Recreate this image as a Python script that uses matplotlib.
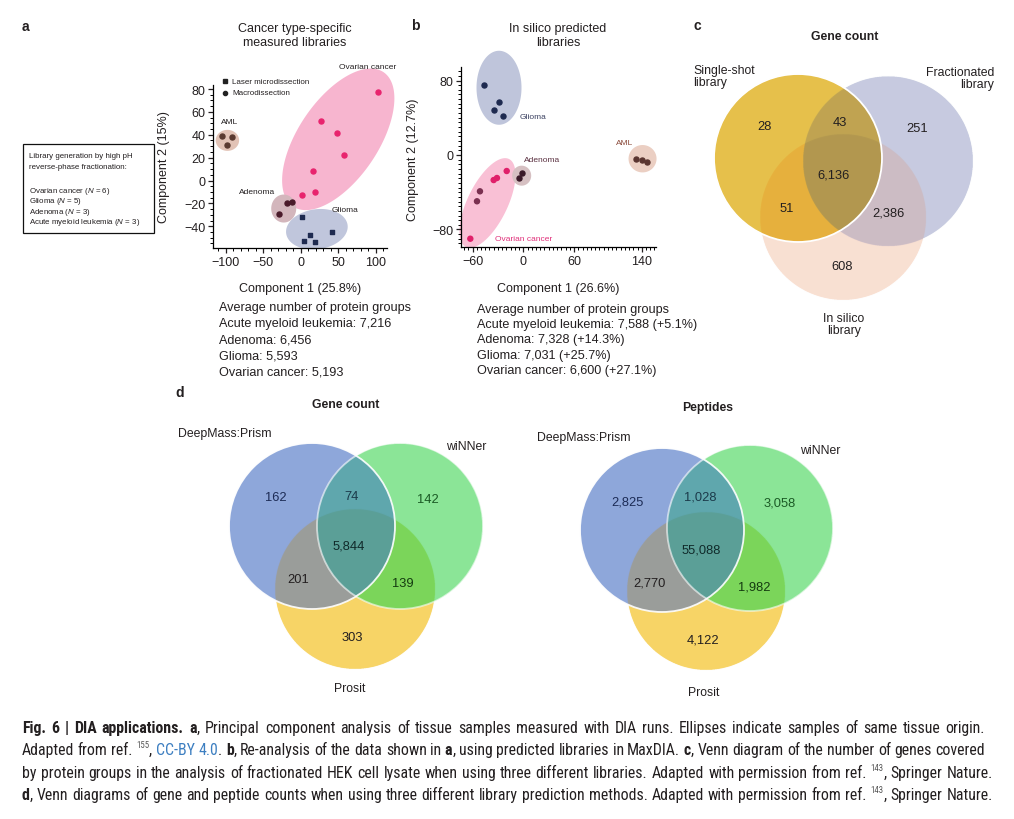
import numpy as np
import matplotlib
matplotlib.use('Agg')
import matplotlib.pyplot as plt
from matplotlib import font_manager
from matplotlib.colors import to_rgba
from matplotlib.patches import Rectangle, Circle
from matplotlib.ticker import MultipleLocator

# ---- data ----
# panel a: PCA, measured libraries
a_ovarian_x = [103.6, 26.7, 48.4, 57.8, 16.0, 19.6, 1.8]
a_ovarian_y = [77.6, 51.9, 41.1, 22.7, 7.9, -9.9, -13.1]
a_aml_x = [-104.9, -91.1, -98.2]
a_aml_y = [38.5, 38.2, 30.9]
a_adenoma_x = [-18.7, -12.0, -29.3]
a_adenoma_y = [-19.8, -18.7, -29.7]
a_glioma_x = [1.3, 42.2, 12.4, 18.7, 4.0]
a_glioma_y = [-31.8, -44.6, -47.5, -53.4, -52.8]

# panel b: PCA, in silico libraries
b_glioma_x = [-26.7, -46.5, -28.4, -35.0, -24.4]
b_glioma_y = [99.6, 75.2, 56.6, 48.7, 41.9]
b_aml_x = [133.2, 140.3, 145.8]
b_aml_y = [-4.3, -5.0, -7.1]
b_adenoma_x = [-1.2, -5.1]
b_adenoma_y = [-19.3, -24.7]
b_ovarian_x = [-19.6, -31.1, -35.0, -51.2, -54.7, -62.6]
b_ovarian_y = [-17.2, -24.7, -26.9, -39.0, -49.7, -89.9]

groups = ['Acute myeloid leukemia', 'Adenoma', 'Glioma', 'Ovarian cancer']
measured_groups = [7216, 6456, 5593, 5193]
insilico_groups = [7588, 7328, 7031, 6600]
insilico_gain = [5.1, 14.3, 25.7, 27.1]

# venn counts, region order: A, B, AB, C, AC, BC, ABC
c_sets = ['Single-shot\nlibrary', 'Fractionated\nlibrary', 'In silico\nlibrary']
c_counts = [28, 251, 43, 608, 51, 2386, 6136]
d_sets = ['DeepMass:Prism', 'wiNNer', 'Prosit']
d_gene_counts = [162, 142, 74, 303, 201, 139, 5844]
d_pep_counts = [2825, 3058, 1028, 4122, 2770, 1982, 55088]

# ---- fonts ----
avail = sorted({f.name for f in font_manager.fontManager.ttflist})
NARROW = 'Liberation Sans'
for cand in ['Liberation Sans Narrow', 'Arial Narrow', 'Roboto Condensed', 'Open Sans Condensed',
             'Noto Sans Condensed', 'Nimbus Sans Narrow', 'Noto Sans Display Condensed']:
    if cand in avail:
        NARROW = cand
        break
else:
    for n in avail:
        if ('Narrow' in n or 'Condensed' in n) and 'Sans' in n and 'Mono' not in n and 'DejaVu' not in n:
            NARROW = n
            break
plt.rcParams['font.family'] = ['Liberation Sans', 'DejaVu Sans']
plt.rcParams['mathtext.fontset'] = 'custom'
plt.rcParams['mathtext.rm'] = 'Liberation Sans'
plt.rcParams['mathtext.it'] = 'Liberation Sans:italic'
INK = '#231f20'

W, H = 1014, 820
fig = plt.figure(figsize=(W / 100, H / 100), dpi=100)
bg = fig.add_axes([0, 0, 1, 1])
bg.axis('off')
renderer = fig.canvas.get_renderer()


def px_axes(l, t, r, b):
    return fig.add_axes([l / W, 1 - b / H, (r - l) / W, (b - t) / H])


def blob(ax, cx, cy, a, b, ang, color):
    # ellipse given in screen pixels, centred on a data point
    x0, x1 = ax.get_xlim()
    y0, y1 = ax.get_ylim()
    pos = ax.get_position()
    sx = pos.width * W / (x1 - x0)
    sy = pos.height * H / (y1 - y0)
    t = np.linspace(0, 2 * np.pi, 200)
    r = np.deg2rad(ang)
    ex, ey = a * np.cos(t), b * np.sin(t)
    px = ex * np.cos(r) - ey * np.sin(r)
    py = ex * np.sin(r) + ey * np.cos(r)
    ax.fill(cx + px / sx, cy + py / sy, color=color, lw=0, zorder=1, clip_on=False)


def style_axes(ax, xmin, ymin):
    for s in ['top', 'right']:
        ax.spines[s].set_visible(False)
    for s in ['left', 'bottom']:
        ax.spines[s].set_linewidth(0.9)
    ax.xaxis.set_minor_locator(MultipleLocator(xmin))
    ax.yaxis.set_minor_locator(MultipleLocator(ymin))
    ax.tick_params(which='major', length=3.5, width=0.9, labelsize=9, pad=2, colors=INK)
    ax.tick_params(which='minor', length=2, width=0.7)
    ax.patch.set_alpha(0)


# ---- panel a ----
ax = px_axes(213, 86, 387, 249)
ax.set_xlim(-117, 115)
ax.set_ylim(-59, 83.5)
ax.set_xticks([-100, -50, 0, 50, 100])
ax.set_yticks([-40, -20, 0, 20, 40, 60, 80])
style_axes(ax, 10, 5)
blob(ax, 50, 36, 81, 40, 56, '#f7b5cf')
blob(ax, -97.8, 35.1, 11.7, 10.5, 0, '#e2c3b6')
blob(ax, -22.7, -24.5, 14, 12.5, 90, '#d3b6bc')
blob(ax, 21.5, -42.6, 31, 20, 8, '#c0c6dc')
ax.scatter(a_ovarian_x, a_ovarian_y, s=13, color='#e8246e', zorder=3, clip_on=False)
ax.scatter(a_aml_x, a_aml_y, s=13, color='#5a3a30', zorder=3, clip_on=False)
ax.scatter(a_adenoma_x, a_adenoma_y, s=13, color='#4a1a2a', zorder=3, clip_on=False)
ax.scatter(a_glioma_x, a_glioma_y, s=12, marker='s', color='#1e2a50', zorder=3, clip_on=False)
for txt, x, y in [('Ovarian cancer', 51, 99.8), ('AML', -105.8, 51.3),
                  ('Adenoma', -82.3, -9.7), ('Glioma', 41.8, -25.7)]:
    ax.text(x, y, txt, fontsize=6, color=INK, va='center', clip_on=False)
ax.set_xlabel('Component 1 (25.8%)', fontsize=9, color=INK)
ax.set_ylabel('Component 2 (15%)', fontsize=9, color=INK)
ax.xaxis.set_label_coords(0.5, -0.21)
ax.yaxis.set_label_coords(-0.247, 0.5)

bg.plot([225], [82.3], 's', ms=3, color='#222')
bg.plot([225], [93.7], 'o', ms=3, color='#222')
bg.text(232, 82.3, 'Laser microdissection', fontsize=5.8, va='center', color=INK)
bg.text(232, 93.7, 'Macrodissection', fontsize=5.8, va='center', color=INK)

bg.text(295, 36, 'Cancer type-specific\nmeasured libraries', fontsize=9, ha='center',
        va='center', linespacing=1.25, color=INK)

bg.add_patch(Rectangle((23, 145), 131, 89, fill=False, lw=0.9, ec='#111'))
box_lines = [('Library generation by high pH', 156.7), ('reverse-phase fractionation:', 167.7),
             ('Ovarian cancer ($N$ = 6)', 191.7), ('Glioma ($N$ = 5)', 201.3),
             ('Adenoma ($N$ = 3)', 212), ('Acute myeloid leukemia ($N$ = 3)', 222.7)]
for txt, y in box_lines:
    bg.text(29.3, y, txt, fontsize=5.7, va='center', color=INK)

# ---- panel b ----
bx = px_axes(461, 68, 656, 248)
bx.set_xlim(-73.6, 156.8)
bx.set_ylim(-98.8, 94.5)
bx.set_xticks([-60, 0, 60, 140])
bx.set_yticks([-80, 0, 80])
style_axes(bx, 5, 5)
blob(bx, -28.7, 72.2, 37, 22.5, 90, '#bfc5db')
blob(bx, -42.3, -51.6, 49, 20, 64, '#f9c0d5')
blob(bx, -1.9, -22.2, 10, 9.5, 90, '#d6c0c2')
blob(bx, 140.9, -4.0, 14, 13.7, 0, '#ebcfc3')
bx.scatter(b_glioma_x, b_glioma_y, s=13, color='#1e2a50', zorder=3)
bx.scatter(b_aml_x, b_aml_y, s=13, color='#5a3530', zorder=3)
bx.scatter(b_adenoma_x, b_adenoma_y, s=13, color='#3a1a28', zorder=3)
bx.scatter(b_ovarian_x, b_ovarian_y, s=13, color=['#e0206a', '#e0206a', '#e0206a', '#7a3050', '#7a3050', '#e0206a'],
           zorder=3)
for txt, x, y, c in [('Glioma', -4.0, 41.6, '#3a4060'), ('Adenoma', 0.8, -5.0, '#5a3040'),
                     ('AML', 109.2, 13.6, '#8a4a3a'), ('Ovarian cancer', -33.5, -89.5, '#e0307a')]:
    bx.text(x, y, txt, fontsize=6, color=c, va='center', clip_on=False)
bx.set_xlabel('Component 1 (26.6%)', fontsize=9, color=INK)
bx.set_ylabel('Component 2 (12.7%)', fontsize=9, color=INK)
bx.xaxis.set_label_coords(0.5, -0.196)
bx.yaxis.set_label_coords(-0.214, 0.489)
bg.text(558, 36, 'In silico predicted\nlibraries', fontsize=9, ha='center', va='center',
        linespacing=1.25, color=INK)

# protein group summaries
lines_a = ['Average number of protein groups'] + [f'{g}: {n:,}' for g, n in zip(groups, measured_groups)]
lines_b = ['Average number of protein groups'] + [f'{g}: {n:,} (+{p}%)' for g, n, p in
                                                  zip(groups, insilico_groups, insilico_gain)]
for i, s in enumerate(lines_a):
    bg.text(219, 308 + 16.2 * i, s, fontsize=9.1, va='center', color=INK)
for i, s in enumerate(lines_b):
    bg.text(477, 310 + 15.2 * i, s, fontsize=9.1, va='center', color=INK)


# ---- venn diagrams ----
def venn(circles, colors, counts, pos, tcolors, outline):
    x0 = min(cx - r for cx, cy, r in circles) - 2
    x1 = max(cx + r for cx, cy, r in circles) + 2
    y0 = min(cy - r for cx, cy, r in circles) - 2
    y1 = max(cy + r for cx, cy, r in circles) + 2
    xs = np.arange(x0, x1, 0.25)
    ys = np.arange(y0, y1, 0.25)
    X, Y = np.meshgrid(xs, ys)
    code = np.zeros(X.shape, int)
    for i, (cx, cy, r) in enumerate(circles):
        code |= (((X - cx) ** 2 + (Y - cy) ** 2) <= r * r).astype(int) << i
    lut = np.zeros((8, 4))
    lut[0] = (1, 1, 1, 0)
    for k in range(1, 8):
        lut[k] = to_rgba(colors[k - 1])
    bg.imshow(lut[code], extent=(x0, x1, y1, y0), interpolation='antialiased', aspect='auto', zorder=1)
    for i, a in outline:
        cx, cy, r = circles[i]
        bg.add_patch(Circle((cx, cy), r, fill=False, ec='white', lw=1.3, alpha=a, zorder=2))
    for n, (x, y), c in zip(counts, pos, tcolors):
        bg.text(x, y, f'{n:,}', fontsize=9.3, ha='center', va='center', color=c, zorder=3)


# region colours in order A, B, AB, C, AC, BC, ABC
c_colors = ['#e6c14c', '#c7cbe0', '#c0a452', '#f9e0d2', '#e7b13d', '#ccbcc5', '#b3984f']
d_colors = ['#8ea7da', '#8be597', '#5fa7ad', '#f7d466', '#9b9d9b', '#7bd65a', '#5b9f98']

venn([(798, 159, 84), (888, 162, 85), (843, 218, 83)], c_colors, c_counts,
     [(765, 127), (917, 129), (840, 123), (842, 267), (787, 209), (888, 214), (833, 176)],
     [INK] * 7, [(0, 1.0)])
venn([(312, 527, 83), (400, 527, 83), (355, 590, 80)], d_colors, d_gene_counts,
     [(276, 498), (428, 500), (352, 497), (352, 638), (298, 580), (403, 584), (349, 547)],
     ['#1c2b55', '#1b5a25', '#1b3a4a', INK, INK, '#143a10', '#102a2a'], [(0, 0.9), (1, 0.6)])
venn([(662, 531, 82), (750, 529, 83), (706, 592, 79)], d_colors, d_pep_counts,
     [(628, 503), (780, 504), (700, 498), (703, 641), (650, 584), (754, 588), (701, 551)],
     ['#1c2b55', '#1b5a25', '#1b3a4a', INK, INK, '#143a10', '#102a2a'], [(0, 0.9), (1, 0.6)])

# venn labels
vkw = dict(fontsize=8.8, color=INK, linespacing=1.1)
bg.text(845, 37, 'Gene count', fontsize=8.8, fontweight='bold', ha='center', va='center', color=INK)
bg.text(693, 77, c_sets[0], ha='left', va='center', **vkw)
bg.text(994, 79, c_sets[1], ha='right', va='center', multialignment='right', **vkw)
bg.text(844, 325, c_sets[2], ha='center', va='center', multialignment='center', **vkw)

bg.text(346, 405, 'Gene count', fontsize=8.8, fontweight='bold', ha='center', va='center', color=INK)
bg.text(178, 434, d_sets[0], ha='left', va='center', **vkw)
bg.text(466, 447, d_sets[1], ha='center', va='center', **vkw)
bg.text(350, 689, d_sets[2], ha='center', va='center', **vkw)

bg.text(708, 408, 'Peptides', fontsize=8.8, fontweight='bold', ha='center', va='center', color=INK)
bg.text(537, 438, d_sets[0], ha='left', va='center', **vkw)
bg.text(820, 451, d_sets[1], ha='center', va='center', **vkw)
bg.text(704, 693, d_sets[2], ha='center', va='center', **vkw)

# panel letters
for s, x, y in [('a', 25, 27), ('b', 415, 26), ('c', 697, 26), ('d', 180, 393)]:
    bg.text(x, y, s, fontsize=10, fontweight='bold', ha='center', va='center', color=INK)

bg.set_xlim(0, W)
bg.set_ylim(H, 0)

# ---- caption (justified, word by word) ----
caption = [
    [('Fig. 6 | DIA applications.', 'b', True), ('a', 'b', False),
     (', Principal component analysis of tissue samples measured with DIA runs. '
      'Ellipses indicate samples of same tissue origin.', 'n', False)],
    [('Adapted from ref.', 'n', True), ('155', 'sup', False), (',', 'n', True), ('CC-BY 4.0', 'link', False),
     ('.', 'n', True), ('b', 'b', False), (', Re-analysis of the data shown in', 'n', True), ('a', 'b', False),
     (', using predicted libraries in MaxDIA.', 'n', True), ('c', 'b', False),
     (', Venn diagram of the number of genes covered', 'n', False)],
    [('by protein groups in the analysis of fractionated HEK cell lysate when using three different libraries. '
      'Adapted with permission from ref.', 'n', True), ('143', 'sup', False), (', Springer Nature.', 'n', False)],
    [('d', 'b', False), (', Venn diagrams of gene and peptide counts when using three different library '
                         'prediction methods. Adapted with permission from ref.', 'n', True),
     ('143', 'sup', False), (', Springer Nature.', 'n', False)],
]
cap_y = [733, 755, 778, 800]
cap_end = [985, 985, 993, 993]


def words_of(tokens):
    out = []
    for txt, st, sp in tokens:
        ws = txt.split(' ')
        for i, w in enumerate(ws):
            out.append((w, st, sp if i == len(ws) - 1 else True))
    return out


def make_word(x, y, w, st, size):
    kw = dict(fontsize=size, family=NARROW, color=INK, va='baseline', ha='left')
    if st == 'b':
        kw['fontweight'] = 'bold'
    elif st == 'link':
        kw['color'] = '#3d7fc1'
    elif st == 'sup':
        kw['fontsize'] = size * 0.55
        kw['color'] = '#555'
        y = y - size * 0.6
    return bg.text(x, y, w, **kw)


def measure(words, size):
    ws = []
    for w, st, sp in words:
        t = make_word(0, 0, w, st, size)
        ws.append(t.get_window_extent(renderer).width)
        t.remove()
    return ws


t1 = bg.text(0, 0, 'a a', fontsize=10, family=NARROW)
t2 = bg.text(0, 0, 'aa', fontsize=10, family=NARROW)
space10 = t1.get_window_extent(renderer).width - t2.get_window_extent(renderer).width
t1.remove()
t2.remove()

line_words = [words_of(toks) for toks in caption]
scale = []
for words, end in zip(line_words, cap_end):
    widths = measure(words, 10)
    nat = sum(widths) + space10 * sum(1 for w in words if w[2])
    scale.append((end - 22) / nat)
cap_fs = min(10 * min(scale), 12.7)

for words, y, end in zip(line_words, cap_y, cap_end):
    widths = measure(words, cap_fs)
    ngap = sum(1 for w in words[:-1] if w[2])
    gap = (end - 22 - sum(widths)) / max(ngap, 1)
    x = 22
    for (w, st, sp), wd in zip(words, widths):
        make_word(x, y, w, st, cap_fs)
        x += wd + (gap if sp else 0)

fig.savefig('out.png', dpi=100)
